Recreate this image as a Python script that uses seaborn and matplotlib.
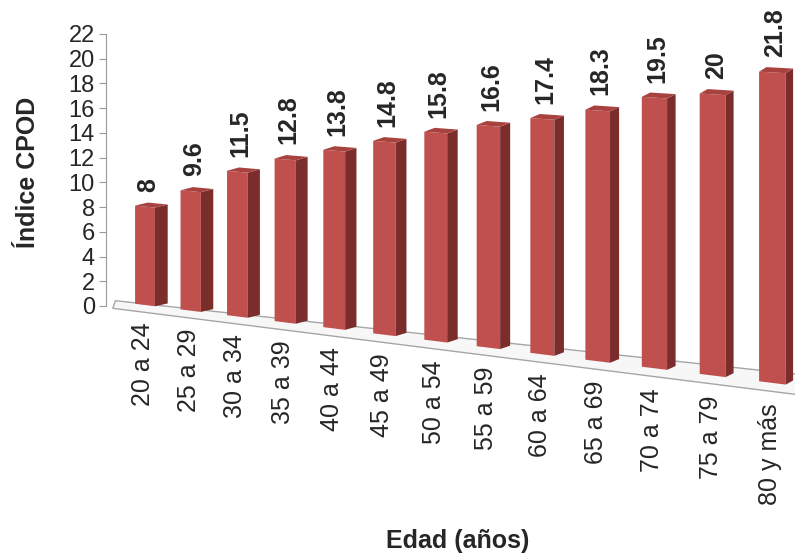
import matplotlib
matplotlib.use("Agg")
import numpy as np
import matplotlib.pyplot as plt
import seaborn as sns
import pandas as pd
from matplotlib.patches import Polygon
from matplotlib.transforms import Transform, offset_copy

categories = ["20 a 24", "25 a 29", "30 a 34", "35 a 39", "40 a 44", "45 a 49",
              "50 a 54", "55 a 59", "60 a 64", "65 a 69", "70 a 74", "75 a 79", "80 y más"]
values = [8, 9.6, 11.5, 12.8, 13.8, 14.8, 15.8, 16.6, 17.4, 18.3, 19.5, 20, 21.8]
yticks = list(range(0, 23, 2))

df = pd.DataFrame({"Edad": categories, "CPOD": values})

sns.set_style("white")
plt.rcParams['font.family'] = ['Liberation Sans', 'DejaVu Sans']

W, H, DPI = 7.95, 5.56, 100
fig = plt.figure(figsize=(W, H), dpi=DPI)
HPX = H * DPI


class Perspective(Transform):
    """Projective (3D-like) view of the category/value plane, output in pixels."""
    input_dims = 2
    output_dims = 2
    is_separable = False
    has_inverse = False

    def __init__(self, a, c, g, d, f, e, hpx):
        super().__init__()
        self.a, self.c, self.g, self.d, self.f, self.e, self.hpx = a, c, g, d, f, e, hpx

    def transform_non_affine(self, values):
        vals = np.asarray(values, dtype=float).reshape(-1, 2)
        x, v = vals[:, 0], vals[:, 1]
        w = 1.0 + self.g * x
        px = (self.a * x + self.c) / w
        py = (self.d * x + self.f + self.e * v) / w
        return np.column_stack([px, self.hpx - py])


persp = Perspective(a=43.5, c=145.0, g=-0.01137, d=2.14, f=305.0, e=-12.3, hpx=HPX)

# axes carrying the value scale (back wall)
ax = fig.add_axes([106 / 795, 1 - 306 / 556, 0.86, 272 / 556])
sns.barplot(data=df, x="Edad", y="CPOD", color="#C0504D", width=0.44,
            saturation=1, ax=ax, zorder=4, linewidth=0, edgecolor="none")
bars = list(ax.patches)

n = len(categories)
# floor slab
floor = Polygon([(-0.72, -0.6), (n - 0.3, -0.6), (n - 0.1, 0.85), (-0.66, 0.05)],
                closed=True, facecolor="#F7F7F7", edgecolor="#A6A6A6", lw=1.0,
                transform=persp, clip_on=False, zorder=1)
ax.add_patch(floor)

for i, p in enumerate(bars):
    p.set_transform(persp)
    p.set_clip_on(False)
    x0 = p.get_x(); w = p.get_width(); h = p.get_height()
    x1 = x0 + w
    ddx = 0.28 - 0.0133 * i
    ddv = 0.35
    side = Polygon([(x1, 0), (x1 + ddx, ddv), (x1 + ddx, h + ddv), (x1, h)],
                   closed=True, facecolor="#7B2D2B", edgecolor="none",
                   transform=persp, clip_on=False, zorder=4)
    top = Polygon([(x0, h), (x0 + ddx, h + ddv), (x1 + ddx, h + ddv), (x1, h)],
                  closed=True, facecolor="#A8423F", edgecolor="none",
                  transform=persp, clip_on=False, zorder=4)
    ax.add_patch(side)
    ax.add_patch(top)
    # value label
    ax.text(x0 + w / 2, h, f"{values[i]:g}", rotation=90, ha="center", va="bottom",
            fontsize=18, fontweight="bold", clip_on=False, zorder=5,
            transform=offset_copy(persp, fig=fig, x=3, y=15, units="dots"))
    # category label
    ax.text(x0 + w / 2, -1.2, categories[i], rotation=90, ha="center", va="top",
            fontsize=18, clip_on=False, zorder=5,
            transform=offset_copy(persp, fig=fig, x=-2, y=-3, units="dots"))

ax.set_ylim(0, 22)
ax.set_yticks(yticks)
ax.set_yticklabels([str(t) for t in yticks], fontsize=17)
ax.set_xticks([])
ax.tick_params(axis="y", length=5, direction="out", left=True, color="#999999", pad=3)
for s in ["top", "right", "bottom"]:
    ax.spines[s].set_visible(False)
ax.spines["left"].set_color("#999999")
ax.set_facecolor("none")
ax.set_xlabel("")
ax.set_ylabel("")

fig.text(28 / 795, 1 - 172 / 556, "Índice CPOD", rotation=90, ha="center", va="center",
         fontsize=18, fontweight="bold")
fig.text(458 / 795, 1 - 541 / 556, "Edad (años)", ha="center", va="center",
         fontsize=18, fontweight="bold")

fig.savefig("out.png", dpi=DPI)
